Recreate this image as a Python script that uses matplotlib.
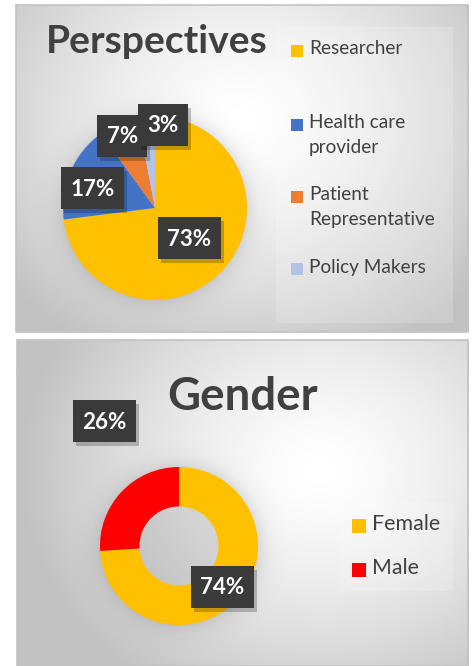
import numpy as np
import matplotlib.pyplot as plt
from matplotlib.patches import Rectangle

W, H = 473, 666

# data
persp_labels = [['Researcher'], ['Health care', 'provider'], ['Patient', 'Representative'], ['Policy Makers']]
persp_values = [73, 17, 7, 3]
persp_colors = ['#FFC000', '#4472C4', '#ED7D31', '#B4C2E6']

gender_labels = [['Female'], ['Male']]
gender_values = [74, 26]
gender_colors = ['#FFC000', '#FF0000']

FONT = 'Lato'
DARK = '#404040'

fig = plt.figure(figsize=(W / 100, H / 100), dpi=100)
fig.patch.set_facecolor('white')

bg = fig.add_axes([0, 0, 1, 1], zorder=0)
bg.axis('off')


def panel(x0, y0, x1, y1, cx, cy, rx, ry):
    xs = np.linspace(x0, x1, 300)
    ys = np.linspace(y0, y1, 300)
    X, Y = np.meshgrid(xs, ys)
    r = np.hypot((X - cx) / rx, (Y - cy) / ry)
    v = 1 - 0.24 * np.clip(r, 0, 1) ** 1.4
    bg.imshow(v, cmap='gray', vmin=0, vmax=1, extent=(x0, x1, y1, y0),
              origin='upper', interpolation='bilinear', aspect='auto')
    bg.add_patch(Rectangle((x0, y0), x1 - x0, y1 - y0, fill=False, ec='#c2c2c2', lw=1.2))


panel(16, 5, 468, 332, 240, 120, 300, 260)
panel(17, 340, 468, 666, 320, 470, 300, 260)
bg.set_xlim(0, W)
bg.set_ylim(H, 0)


def pie_glow(cx, cy, R):
    xs = np.arange(cx - R - 30, cx + R + 30)
    ys = np.arange(cy - R - 30, cy + R + 30)
    X, Y = np.meshgrid(xs, ys)
    d = np.hypot(X - cx, Y - cy) - R
    a = 0.10 * np.exp(-np.clip(d, 0, None) / 9.0)
    img = np.zeros(X.shape + (4,))
    img[..., 3] = a
    bg.imshow(img, extent=(xs[0], xs[-1], ys[-1], ys[0]), origin='upper',
              interpolation='bilinear', aspect='auto')


def pie_axes(cx, cy, R):
    ax = fig.add_axes([(cx - R) / W, 1 - (cy + R) / H, 2 * R / W, 2 * R / H], zorder=1)
    ax.set_xlim(-1, 1)
    ax.set_ylim(-1, 1)
    ax.axis('off')
    return ax


ov = fig.add_axes([0, 0, 1, 1], zorder=2)
ov.patch.set_alpha(0)
ov.axis('off')
ov.set_xlim(0, W)
ov.set_ylim(H, 0)


def data_labels(wedges, values, cx, cy, R, dists, nudges, fs):
    for w, v, d, n in zip(wedges, values, dists, nudges):
        th = np.deg2rad((w.theta1 + w.theta2) / 2 + n)
        px = cx + d * R * np.cos(th)
        py = cy - d * R * np.sin(th)
        txt = f'{v}%'
        bw, bh = 24 + 13 * len(txt), 42
        ov.add_patch(Rectangle((px - bw / 2 + 3, py - bh / 2 + 4), bw, bh, fc='black', alpha=0.22, lw=0))
        ov.add_patch(Rectangle((px - bw / 2, py - bh / 2), bw, bh, fc='#3a3a3a', lw=0))
        ov.text(px, py + 1, txt, color='white', fontsize=fs, fontweight='bold',
                family=FONT, ha='center', va='center')


def legend(labels, colors, x_mark, x_text, rows, size, fs, line_gap):
    for lines, c, y in zip(labels, colors, rows):
        ov.add_patch(Rectangle((x_mark, y - size / 2 + 2), size, size, fc=c, lw=0))
        for i, line in enumerate(lines):
            ov.text(x_text, y + i * line_gap, line, color=DARK, fontsize=fs,
                    family=FONT, ha='left', va='center')


def fit(t, width):
    r = fig.canvas.get_renderer()
    bb = t.get_window_extent(r)
    t.set_fontsize(t.get_fontsize() * width / bb.width)
    return t.get_fontsize()


# --- Perspectives ---
cx1, cy1, R1 = 155, 208, 92
pie_glow(cx1, cy1, R1)
ax1 = pie_axes(cx1, cy1, R1)
w1, _ = ax1.pie(persp_values, colors=persp_colors, startangle=90, counterclock=False,
                radius=1, wedgeprops=dict(linewidth=0))
ax1.set_xlim(-1, 1)
ax1.set_ylim(-1, 1)

ov.add_patch(Rectangle((276, 27), 177, 296, fc='white', alpha=0.18, lw=0))
t1 = ov.text(46, 53, 'Perspectives', color=DARK, fontsize=28, fontweight='bold',
             family=FONT, ha='left', va='baseline')
fit(t1, 222)

probe = ov.text(0, -100, 'Representative', fontsize=15, family=FONT)
fs_leg1 = fit(probe, 126)
probe.remove()
legend(persp_labels, persp_colors, 291, 309, [49, 123, 195, 267], 12, fs_leg1, 25)

probe = ov.text(0, -100, '73%', fontsize=17, fontweight='bold', family=FONT)
fs_lab = fit(probe, 44)
probe.remove()
data_labels(w1, persp_values, cx1, cy1, R1, [0.5, 0.71, 0.86, 0.91], [0, 6, 1, -11], fs_lab)

# --- Gender ---
cx2, cy2, R2 = 179, 546, 79
pie_glow(cx2, cy2, R2)
ax2 = pie_axes(cx2, cy2, R2)
w2, _ = ax2.pie(gender_values, colors=gender_colors, startangle=90, counterclock=False,
                radius=1, wedgeprops=dict(width=0.5, linewidth=0))
ax2.set_xlim(-1, 1)
ax2.set_ylim(-1, 1)

t2 = ov.text(243, 410, 'Gender', color=DARK, fontsize=30, fontweight='bold',
             family=FONT, ha='center', va='baseline')
fit(t2, 150)

ov.add_patch(Rectangle((340, 502), 113, 89, fc='white', alpha=0.18, lw=0))
probe = ov.text(0, -100, 'Female', fontsize=18, family=FONT)
fs_leg2 = fit(probe, 68)
probe.remove()
legend(gender_labels, gender_colors, 352, 372, [524, 568], 14, fs_leg2, 0)

data_labels(w2, gender_values, cx2, cy2, R2, [0.75, 1.84], [0, -16], fs_lab)

fig.savefig('out.png', dpi=100)
